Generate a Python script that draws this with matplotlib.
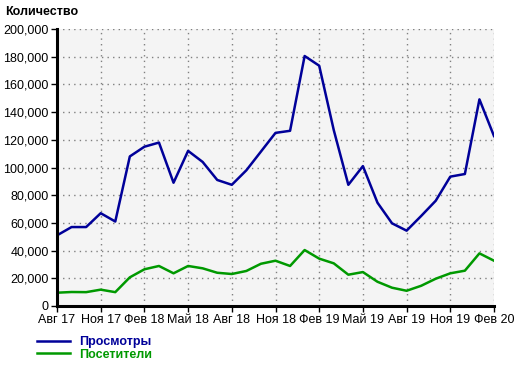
import matplotlib
matplotlib.use("Agg")
import matplotlib.pyplot as plt
from matplotlib.ticker import FuncFormatter, MultipleLocator

plt.rcParams['font.family'] = ['Liberation Sans', 'DejaVu Sans']

months = ["Авг 17", "Сен 17", "Окт 17", "Ноя 17", "Дек 17", "Янв 18", "Фев 18", "Мар 18",
          "Апр 18", "Май 18", "Июн 18", "Июл 18", "Авг 18", "Сен 18", "Окт 18", "Ноя 18",
          "Дек 18", "Янв 19", "Фев 19", "Мар 19", "Апр 19", "Май 19", "Июн 19", "Июл 19",
          "Авг 19", "Сен 19", "Окт 19", "Ноя 19", "Дек 19", "Янв 20", "Фев 20"]
views = [51000, 57000, 57000, 67000, 61000, 108000, 115000, 118000, 89000, 112000, 104000,
         91000, 87500, 98000, 111500, 125000, 126500, 180500, 173500, 127000, 87500, 101000,
         74600, 59700, 54400, 65000, 76000, 93400, 95300, 149200, 122700]
visitors = [9600, 10100, 10000, 11800, 10000, 20700, 26500, 28900, 23600, 28900, 27200,
            24000, 23100, 25300, 30500, 32700, 28900, 40400, 34200, 30800, 22600, 24500,
            17500, 13200, 11000, 14600, 19700, 23600, 25500, 38000, 32700]
tick_step = 3

fig = plt.figure(figsize=(5.2, 3.66), dpi=100)
ax = fig.add_axes([57/520, 1-306/366, (494-57)/520, (306-29)/366])
ax.set_facecolor('#f4f4f4')

x = list(range(len(months)))
l1, = ax.plot(x, views, color='#000099', lw=1.8, label='Просмотры')
l2, = ax.plot(x, visitors, color='#009900', lw=1.8, label='Посетители')

ax.set_xlim(0, len(months)-1)
ax.set_ylim(0, 200000)
ax.yaxis.set_major_locator(MultipleLocator(20000))
ax.yaxis.set_major_formatter(FuncFormatter(lambda v, p: f"{int(v):,}"))
ticks = x[::tick_step]
ax.set_xticks(ticks)
ax.set_xticklabels([months[i] for i in ticks])
ax.tick_params(axis='both', labelsize=9, length=4, width=1, color='black', pad=2)
ax.grid(True, color='#808080', linestyle=(0, (1, 3)), linewidth=1)
for s in ['top', 'right']:
    ax.spines[s].set_visible(False)
for s in ['left', 'bottom']:
    ax.spines[s].set_linewidth(2.2)

fig.text(5/520, 1-12/366, 'Количество', fontsize=9, fontweight='bold', va='center', ha='left')

leg = fig.legend(handles=[l1, l2], loc='upper left', bbox_to_anchor=(37/520, 1-336/366),
                 frameon=False, fontsize=9, handlelength=2.6, handletextpad=0.8,
                 labelspacing=0.05, borderpad=0, borderaxespad=0)
for t, c in zip(leg.get_texts(), ['#000099', '#009900']):
    t.set_color(c)
    t.set_fontweight('bold')

fig.savefig('out.png', dpi=100)
